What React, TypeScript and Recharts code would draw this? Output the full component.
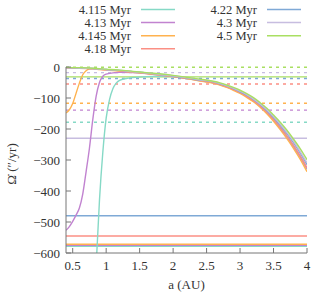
import { LineChart, Line, XAxis, YAxis, ReferenceLine } from "recharts";

// semi-major axis samples (AU)
const aBundle = [0.4, 0.6, 0.8, 1.0, 1.2, 1.4, 1.6, 1.8, 2.0, 2.2, 2.4, 2.6, 2.7, 2.8, 2.9, 3.0, 3.1, 3.2, 3.3, 3.4, 3.5, 3.6, 3.7, 3.8, 3.9, 4.0];
const aPurple = [0.4, 0.45, 0.5, 0.55, 0.6, 0.65, 0.7, 0.75, 0.8, 0.85, 0.9, 0.95, 1.0, 1.1, 1.2, 1.4, 1.6, 1.8, 2.0, 2.2, 2.4, 2.6, 2.7, 2.8, 2.9, 3.0, 3.1, 3.2, 3.3, 3.4, 3.5, 3.6, 3.7, 3.8, 3.9, 4.0];
const aOrange = [0.4, 0.45, 0.5, 0.55, 0.6, 0.65, 0.7, 0.75, 0.8, 0.9, 1.0, 1.2, 1.4, 1.6, 1.8, 2.0, 2.2, 2.4, 2.6, 2.7, 2.8, 2.9, 3.0, 3.1, 3.2, 3.3, 3.4, 3.5, 3.6, 3.7, 3.8, 3.9, 4.0];
const aTeal = [0.86, 0.9, 0.95, 1.0, 1.05, 1.1, 1.15, 1.2, 1.3, 1.4, 1.6, 1.8, 2.0, 2.2, 2.4, 2.6, 2.7, 2.8, 2.9, 3.0, 3.1, 3.2, 3.3, 3.4, 3.5, 3.6, 3.7, 3.8, 3.9, 4.0];

// precession rate (arcsec/yr)
const v4115 = [-600, -430, -275, -165, -105, -70, -52, -43, -37, -34, -31, -30, -31, -37, -44, -51, -57, -64, -73, -83, -95, -110, -127, -147, -171, -197, -225, -257, -291, -330];
const v4130 = [-527, -515, -498, -478, -455, -410, -338, -262, -170, -95, -50, -30, -23, -19, -17, -18, -21, -26, -31, -37, -44, -51, -57, -64, -73, -83, -95, -109, -126, -146, -170, -196, -224, -256, -290, -328];
const v4145 = [-148, -138, -118, -85, -52, -25, -12, -7, -6, -8, -10, -13, -17, -21, -26, -31, -37, -45, -52, -58, -66, -75, -85, -98, -112, -130, -151, -175, -202, -231, -263, -298, -338];
const v4180 = [-3, -4, -6, -9, -12, -16, -20, -25, -30, -36, -43, -50, -56, -63, -72, -82, -94, -108, -125, -145, -168, -194, -222, -253, -287, -325];
const v4220 = [-2, -3, -5, -8, -11, -15, -19, -24, -29, -35, -42, -48, -54, -61, -70, -80, -91, -105, -121, -141, -163, -188, -215, -245, -278, -315];
const v4300 = [-2, -3, -5, -8, -11, -15, -19, -24, -28, -34, -41, -47, -53, -60, -68, -78, -89, -103, -119, -138, -160, -184, -211, -240, -273, -309];
const v4500 = [-1, -2, -4, -7, -10, -14, -18, -22, -27, -33, -39, -46, -51, -58, -66, -75, -86, -99, -115, -133, -155, -178, -204, -233, -264, -299];

const labels = ["4.115 Myr", "4.13 Myr", "4.145 Myr", "4.18 Myr", "4.22 Myr", "4.3 Myr", "4.5 Myr"];
const colors = ["#86d9c6", "#c183d0", "#ffb24f", "#fb8f84", "#7fa9d6", "#c7bde0", "#a9df62"];
const solidLevels = [-578, -575, -572, -545, -480, -230, -32];
const dashedLevels = [-178, -139, -117, -55, -37, -18, -1];

const xTicks = [0.5, 1, 1.5, 2, 2.5, 3, 3.5, 4];
const yTicks = [-600, -500, -400, -300, -200, -100, 0];

const zip = (a: number[], v: number[]) => a.map((x, i) => ({ a: x, w: v[i] }));
const curves = [
  zip(aTeal, v4115),
  zip(aPurple, v4130),
  zip(aOrange, v4145),
  zip(aBundle, v4180),
  zip(aBundle, v4220),
  zip(aBundle, v4300),
  zip(aBundle, v4500),
];

const FONT = "'Liberation Serif', 'Times New Roman', serif";
const FRAME = "#777";
const INK = "#333";

const fmt = (n: number) => (n < 0 ? "\u2212" + Math.abs(n) : String(n));

const BottomTick = ({ x, y, payload }: any) => (
  <g>
    <line x1={x} y1={y} x2={x} y2={y - 5} stroke={FRAME} />
    <text x={x} y={y + 17} textAnchor="middle" fontFamily={FONT} fontSize={13} fill={INK}>
      {payload.value}
    </text>
  </g>
);
const TopTick = ({ x, y }: any) => <line x1={x} y1={y} x2={x} y2={y + 5} stroke={FRAME} />;
const LeftTick = ({ x, y, payload }: any) => (
  <g>
    <line x1={x} y1={y} x2={x + 5} y2={y} stroke={FRAME} />
    <text x={x - 6} y={y + 4.5} textAnchor="end" fontFamily={FONT} fontSize={13} fill={INK}>
      {fmt(payload.value)}
    </text>
  </g>
);
const RightTick = ({ x, y }: any) => <line x1={x} y1={y} x2={x - 5} y2={y} stroke={FRAME} />;

function LegendBox() {
  return (
    <svg width={332} height={58} style={{ position: "absolute", left: 0, top: 0 }}>
      {labels.map((l, i) => {
        const col = i < 4 ? 0 : 1;
        const row = i < 4 ? i : i - 4;
        const tx = col === 0 ? 131 : 257;
        const ly = 9.5 + row * 13.1;
        return (
          <g key={l}>
            <text x={tx} y={ly + 4.3} textAnchor="end" fontFamily={FONT} fontSize={12.5} fill={INK}>
              {l}
            </text>
            <line x1={tx + 10} x2={tx + 44} y1={ly} y2={ly} stroke={colors[i]} strokeWidth={1.5} />
          </g>
        );
      })}
    </svg>
  );
}

export default function App() {
  return (
    <div style={{ position: "absolute", left: 0, top: 0, width: 332, height: 297, background: "#fff" }}>
      <LineChart width={332} height={297} margin={{ top: 67, right: 25, bottom: 0, left: 0 }}>
        <XAxis
          xAxisId="b"
          dataKey="a"
          type="number"
          domain={[0.4, 4]}
          ticks={xTicks}
          allowDataOverflow
          height={44}
          tickSize={0}
          tickMargin={0}
          tick={<BottomTick />}
          axisLine={{ stroke: FRAME }}
          label={{
            content: ({ viewBox }: any) => (
              <text
                x={viewBox.x + viewBox.width / 2}
                y={viewBox.y + 36}
                textAnchor="middle"
                fontFamily={FONT}
                fontSize={13}
                fill={INK}
              >
                a (AU)
              </text>
            ),
          }}
        />
        <XAxis
          xAxisId="t"
          orientation="top"
          dataKey="a"
          type="number"
          domain={[0.4, 4]}
          ticks={xTicks}
          allowDataOverflow
          height={0}
          tickSize={0}
          tickMargin={0}
          tick={<TopTick />}
          axisLine={{ stroke: FRAME }}
        />
        <YAxis
          yAxisId="l"
          type="number"
          domain={[-600, 0]}
          ticks={yTicks}
          allowDataOverflow
          width={66}
          tickSize={0}
          tickMargin={0}
          tick={<LeftTick />}
          axisLine={{ stroke: FRAME }}
          label={{
            content: ({ viewBox }: any) => {
              const cx = 16;
              const cy = viewBox.y + viewBox.height / 2 + 4;
              return (
                <text
                  x={cx}
                  y={cy}
                  transform={`rotate(-90 ${cx} ${cy})`}
                  textAnchor="middle"
                  fontFamily={FONT}
                  fontSize={13}
                  fill={INK}
                >
                  {"\u03A9\u0307 (\u2033/yr)"}
                </text>
              );
            },
          }}
        />
        <YAxis
          yAxisId="r"
          orientation="right"
          type="number"
          domain={[-600, 0]}
          ticks={yTicks}
          allowDataOverflow
          width={0}
          tickSize={0}
          tickMargin={0}
          tick={<RightTick />}
          axisLine={{ stroke: FRAME }}
        />
        {solidLevels.map((v, i) => (
          <ReferenceLine key={"s" + i} xAxisId="b" yAxisId="l" y={v} stroke={colors[i]} strokeWidth={1.4} />
        ))}
        {dashedLevels.map((v, i) => (
          <ReferenceLine
            key={"d" + i}
            xAxisId="b"
            yAxisId="l"
            y={v}
            stroke={colors[i]}
            strokeWidth={1.4}
            strokeDasharray="3 4"
          />
        ))}
        {curves.map((d, i) => (
          <Line
            key={"c" + i}
            xAxisId="b"
            yAxisId="l"
            data={d}
            dataKey="w"
            type="monotone"
            stroke={colors[i]}
            strokeWidth={1.4}
            dot={false}
            isAnimationActive={false}
          />
        ))}
      </LineChart>
      <LegendBox />
    </div>
  );
}
